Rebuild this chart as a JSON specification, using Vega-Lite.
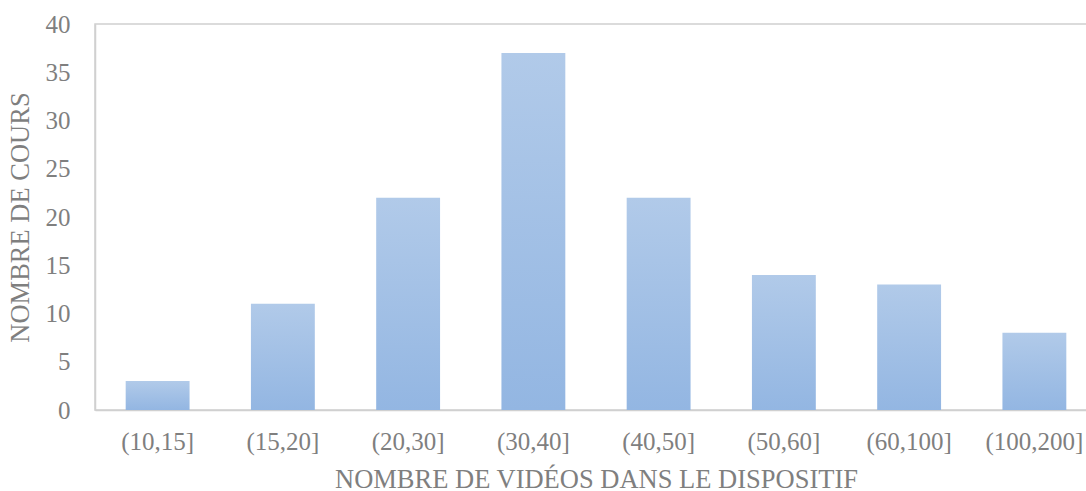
{
  "$schema": "https://vega.github.io/schema/vega-lite/v6.json",
  "autosize": {"type": "none"},
  "padding": {"left": 95, "top": 24, "right": 0, "bottom": 81},
  "width": 1002,
  "height": 386,
  "background": "white",
  "config": {
    "view": {"stroke": "#d0d0d0", "strokeWidth": 1.5},
    "font": "Liberation Serif"
  },
  "data": {
    "values": [
      {"cat": "(10,15]", "n": 3},
      {"cat": "(15,20]", "n": 11},
      {"cat": "(20,30]", "n": 22},
      {"cat": "(30,40]", "n": 37},
      {"cat": "(40,50]", "n": 22},
      {"cat": "(50,60]", "n": 14},
      {"cat": "(60,100]", "n": 13},
      {"cat": "(100,200]", "n": 8}
    ]
  },
  "mark": {
    "type": "bar",
    "color": {
      "gradient": "linear",
      "x1": 0, "y1": 0, "x2": 0, "y2": 1,
      "stops": [
        {"offset": 0, "color": "#b1cae9"},
        {"offset": 1, "color": "#93b6e2"}
      ]
    }
  },
  "encoding": {
    "x": {
      "field": "cat", "type": "nominal", "sort": null,
      "scale": {"paddingInner": 0.49, "paddingOuter": 0.245},
      "axis": {
        "title": "NOMBRE DE VIDÉOS DANS LE DISPOSITIF",
        "labelAngle": 0,
        "labelFont": "Liberation Serif", "labelFontSize": 25, "labelColor": "#7f7f7f",
        "titleFont": "Liberation Serif", "titleFontSize": 26.5, "titleColor": "#7f7f7f", "titleFontWeight": "normal",
        "ticks": false, "labelPadding": 19, "titlePadding": 12,
        "domainColor": "#d0d0d0", "domainWidth": 1.5
      }
    },
    "y": {
      "field": "n", "type": "quantitative",
      "scale": {"domain": [0, 40], "nice": false},
      "axis": {
        "title": "NOMBRE DE COURS",
        "values": [0, 5, 10, 15, 20, 25, 30, 35, 40],
        "grid": false, "ticks": false,
        "labelFont": "Liberation Serif", "labelFontSize": 25, "labelColor": "#7f7f7f",
        "titleFont": "Liberation Serif", "titleFontSize": 26.5, "titleColor": "#7f7f7f", "titleFontWeight": "normal",
        "labelPadding": 25, "titlePadding": 11,
        "domainColor": "#d0d0d0", "domainWidth": 1.5
      }
    }
  }
}
